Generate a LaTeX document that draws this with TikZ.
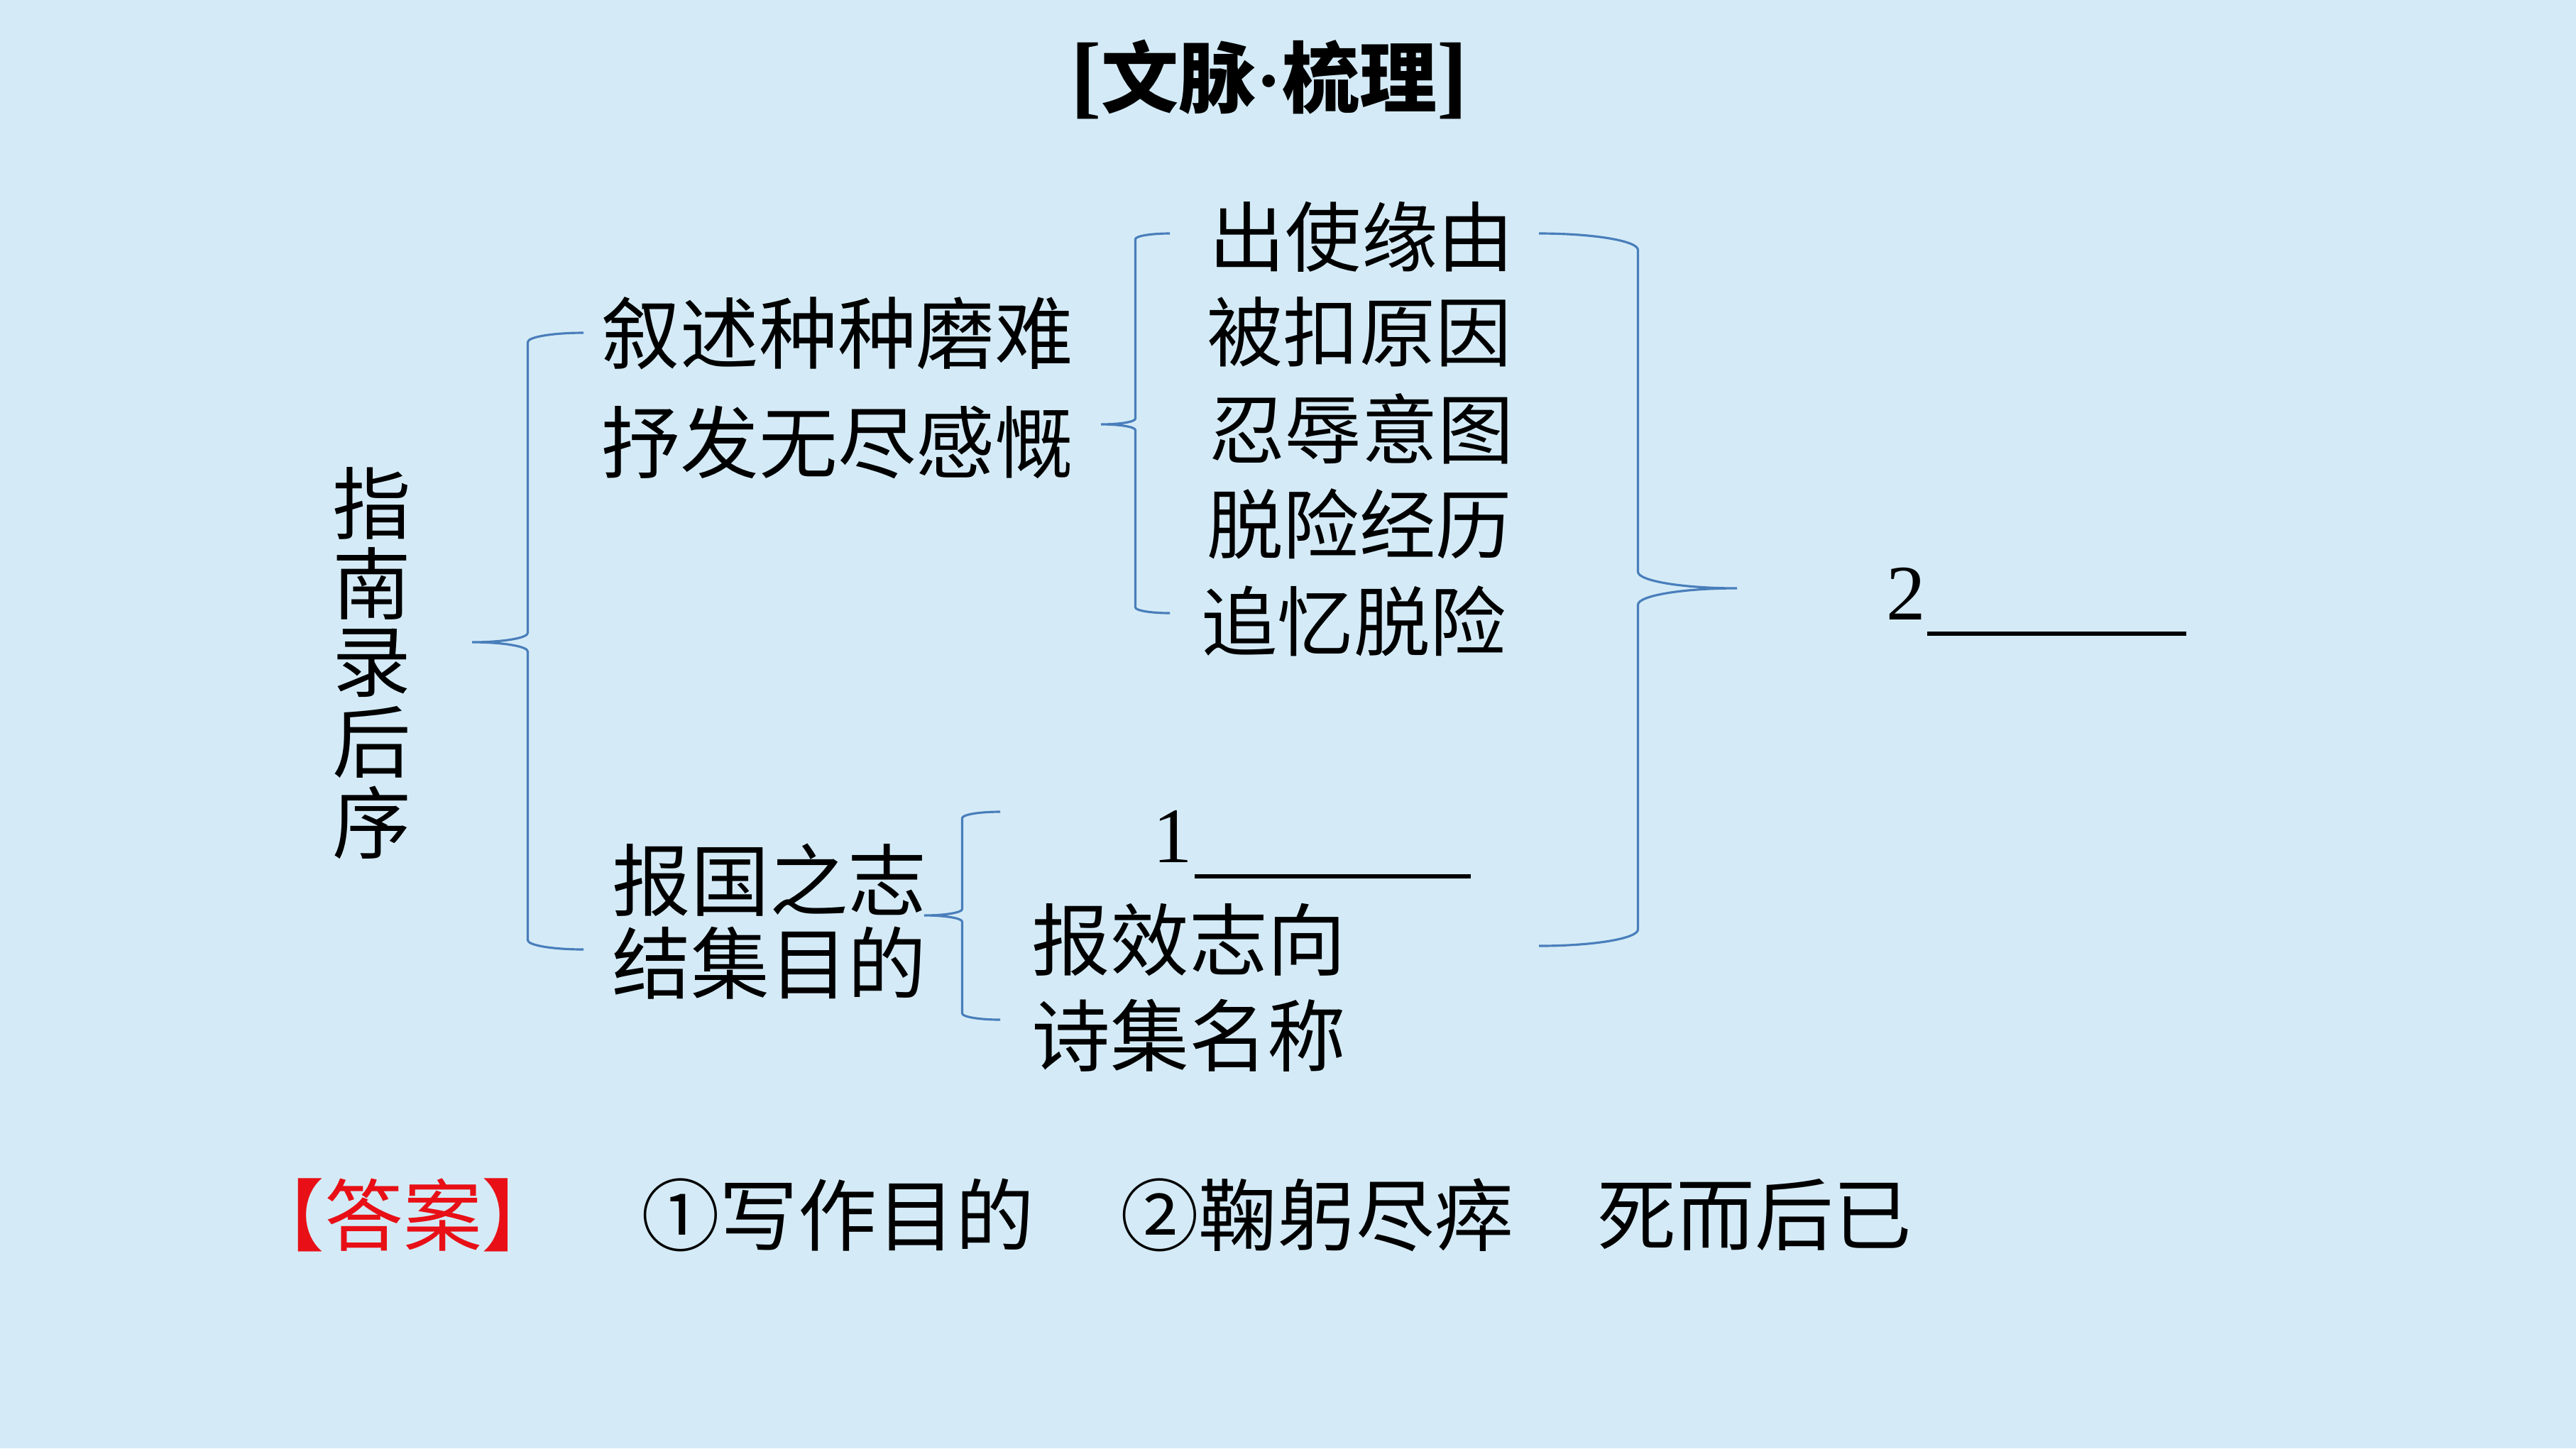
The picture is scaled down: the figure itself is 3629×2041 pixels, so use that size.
\documentclass[tikz,border=0pt]{standalone}
\usepackage{fontspec}
\setmainfont{Liberation Serif}
\newfontfamily\cjk{Noto Sans CJK SC}
\definecolor{bgblue}{RGB}{212,235,247}
\definecolor{bracecol}{RGB}{74,126,187}
\definecolor{ansred}{RGB}{232,16,22}

% left/right curly brace: #1 x of ends, #2 y top, #3 x tip, #4 y tip, #5 y bottom
\newcommand\drawcurly[5]{%
  \pgfmathsetmacro\braceH{(#1-#3)/2}%
  \pgfmathsetmacro\braceV{#3+\braceH}%
  \pgfmathsetmacro\braceR{abs(#1-#3)*0.0833}%
  \pgfmathsetmacro\braceK{\braceR*(1-0.5523)}%
  \draw[bracestyle] (#1,#2)
    .. controls ({#1-0.5523*\braceH},#2) and (\braceV,{#2+\braceK}) .. (\braceV,{#2+\braceR})
    -- (\braceV,{#4-\braceR})
    .. controls (\braceV,{#4-\braceK}) and ({#3+0.5523*\braceH},#4) .. (#3,#4)
    .. controls ({#3+0.5523*\braceH},#4) and (\braceV,{#4+\braceK}) .. (\braceV,{#4+\braceR})
    -- (\braceV,{#5-\braceR})
    .. controls (\braceV,{#5-\braceK}) and ({#1-0.5523*\braceH},#5) .. (#1,#5);
}

\begin{document}
\begin{tikzpicture}[x=0.01cm,y=-0.01cm,
  txt/.style={inner sep=0pt, font=\cjk\fontsize{31.5}{31.5}\selectfont},
  txtsm/.style={inner sep=0pt, font=\cjk\fontsize{30.5}{30.5}\selectfont},
  anstxt/.style={inner sep=0pt, font=\cjk\fontsize{31.5}{31.5}\selectfont},
  bracestyle/.style={draw=bracecol, line width=0.9pt},
  blank/.style={draw=black, line width=1.45pt},
  digit/.style={inner sep=0pt, font=\fontsize{31.5}{31.5}\selectfont, anchor=base}
]
\useasboundingbox (0,0) rectangle (3629,2041);
\fill[bgblue] (0,0) rectangle (3629,2041);

% title
\node[inner sep=0pt, font=\bfseries\fontsize{31}{31}\selectfont] (title) at (1788,112)
  {{\fontsize{37}{37}\selectfont[}{\cjk 文脉}·{\cjk 梳理}{\fontsize{37}{37}\selectfont]}};

% vertical title
\foreach \c/\yy [count=\i] in {指/709,南/822,录/934,后/1046,序/1159}
  \node[txt] (v\i) at (524,\yy) {\c};

% second level
\node[txt] (a1) at (1180,470) {叙述种种磨难};
\node[txt] (a2) at (1180,623) {抒发无尽感慨};
\node[txt] (b1) at (1084,1240) {报国之志};
\node[txt] (b2) at (1084,1357) {结集目的};

% third level (upper)
\node[txtsm] (c1) at (1918,334) {出使缘由};
\node[txtsm] (c2) at (1915,468) {被扣原因};
\node[txtsm] (c3) at (1918,604) {忍辱意图};
\node[txtsm] (c4) at (1915,738) {脱险经历};
\node[txtsm] (c5) at (1907,875) {追忆脱险};

% third level (lower)
\node[digit] (d1) at (1652,1215) {1};
\coordinate (u1a) at (1683,1235);
\coordinate (u1b) at (2072,1235);
\draw[blank] (u1a) -- (u1b);
\node[txt] (e1) at (1675,1324) {报效志向};
\node[txt] (e2) at (1675,1459) {诗集名称};

% blank 2
\node[digit] (d2) at (2685,873) {2};
\coordinate (u2a) at (2715,893);
\coordinate (u2b) at (3080,893);
\draw[blank] (u2a) -- (u2b);

% braces
\drawcurly{822}{469}{665}{905}{1338}
\drawcurly{1648}{329}{1551}{598}{864}
\drawcurly{1409}{1144}{1302}{1290}{1437}
\drawcurly{2168}{329}{2447}{829}{1333}

% answer
\node[anstxt, text=ansred] (ans) at (568,1712) {【答案】};
\node[anstxt] (ans1) at (1180,1712) {①写作目的};
\node[anstxt] (ans2) at (1855,1712) {②鞠躬尽瘁};
\node[anstxt] (ans3) at (2472,1712) {死而后已};
\end{tikzpicture}
\end{document}
